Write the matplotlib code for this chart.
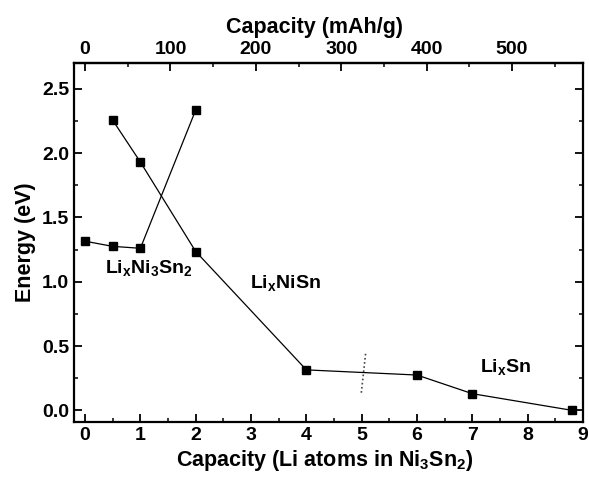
import matplotlib
matplotlib.use("Agg")
import matplotlib.pyplot as plt
from matplotlib.ticker import MultipleLocator

plt.rcParams['font.family'] = ['Liberation Sans', 'DejaVu Sans']
plt.rcParams['font.weight'] = 'bold'
plt.rcParams['mathtext.fontset'] = 'custom'
plt.rcParams['mathtext.rm'] = 'Liberation Sans:bold'
plt.rcParams['mathtext.it'] = 'Liberation Sans:bold'
plt.rcParams['mathtext.bf'] = 'Liberation Sans:bold'

# Data
ni3sn2_x = [0, 0.5, 1, 2]
ni3sn2_y = [1.315, 1.275, 1.26, 2.335]
nisn_x = [0.5, 1, 2, 4, 6, 7, 8.81]
nisn_y = [2.255, 1.93, 1.235, 0.315, 0.275, 0.13, 0.0]
divider_x = [5.07, 4.99]
divider_y = [0.44, 0.125]
mah_per_li = 64.8
top_ticks = [0, 100, 200, 300, 400, 500]

fig = plt.figure(figsize=(5.89, 4.78), dpi=100)
ax = fig.add_axes([74/589, 1-422/478, (583-74)/589, (422-63)/478])

ax.plot(ni3sn2_x, ni3sn2_y, color='black', lw=0.9, marker='s', ms=6, mfc='black', mec='black')
ax.plot(nisn_x, nisn_y, color='black', lw=0.9, marker='s', ms=6, mfc='black', mec='black')
ax.plot(divider_x, divider_y, color='#444444', lw=1.2, ls=(0, (1, 1.5)))

ax.set_xlim(-0.2, 9.0)
ax.set_ylim(-0.09, 2.70)
ax.xaxis.set_major_locator(MultipleLocator(1))
ax.xaxis.set_minor_locator(MultipleLocator(0.5))
ax.yaxis.set_major_locator(MultipleLocator(0.5))
ax.yaxis.set_minor_locator(MultipleLocator(0.25))
ax.yaxis.set_major_formatter(matplotlib.ticker.FormatStrFormatter('%.1f'))

ax.tick_params(which='major', direction='in', length=6, width=1.3, labelsize=14, right=True)
ax.tick_params(which='minor', direction='in', length=3, width=1.1, right=True)
for s in ax.spines.values():
    s.set_linewidth(1.6)

ax.set_xlabel(r'Capacity (Li atoms in Ni$_3$Sn$_2$)', fontsize=15.5, fontweight='bold', labelpad=3)
ax.xaxis.label.set_x((325 - 74) / 509)
ax.set_ylabel('Energy (eV)', fontsize=15.5, fontweight='bold', labelpad=4)

sec = ax.secondary_xaxis('top', functions=(lambda x: x * mah_per_li, lambda v: v / mah_per_li))
sec.set_xticks(top_ticks)
sec.xaxis.set_minor_locator(MultipleLocator(50))
sec.tick_params(which='major', direction='in', length=6, width=1.3, labelsize=14)
sec.tick_params(which='minor', direction='in', length=3, width=1.1)
sec.spines['top'].set_linewidth(1.6)
sec.set_xlabel('Capacity (mAh/g)', fontsize=15.5, fontweight='bold', labelpad=6)
sec.xaxis.label.set_x((314 - 74) / 509)

ax.text(0.36, 1.11, r'Li$_x$Ni$_3$Sn$_2$', fontsize=14, fontweight='bold', va='center', ha='left')
ax.text(2.98, 0.99, r'Li$_x$NiSn', fontsize=14, fontweight='bold', va='center', ha='left')
ax.text(7.14, 0.34, r'Li$_x$Sn', fontsize=14, fontweight='bold', va='center', ha='left')

fig.savefig('out.png', dpi=100)
